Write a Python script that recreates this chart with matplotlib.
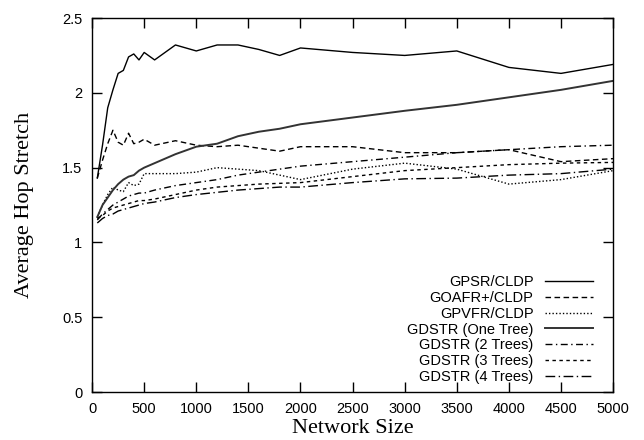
"""Average hop stretch vs. network size for geographic routing protocols."""

import matplotlib
matplotlib.use("Agg")
import matplotlib.pyplot as plt

# ---------------------------------------------------------------------------
# Data
# ---------------------------------------------------------------------------
network_size = [50, 100, 150, 200, 250, 300, 350, 400, 450, 500, 600, 800,
                1000, 1200, 1400, 1600, 1800, 2000, 2500, 3000, 3500, 4000,
                4500, 5000]

gpsr = [1.43, 1.65, 1.90, 2.02, 2.13, 2.15, 2.24, 2.26, 2.22, 2.27, 2.22, 2.32,
        2.28, 2.32, 2.32, 2.29, 2.25, 2.30, 2.27, 2.25, 2.28, 2.17, 2.13, 2.19]
goafr = [1.43, 1.55, 1.66, 1.75, 1.67, 1.65, 1.73, 1.66, 1.67, 1.69, 1.65, 1.68,
         1.65, 1.64, 1.65, 1.63, 1.61, 1.64, 1.64, 1.60, 1.60, 1.62, 1.54, 1.56]
gpvfr = [1.17, 1.25, 1.32, 1.37, 1.35, 1.34, 1.40, 1.38, 1.39, 1.46, 1.46, 1.46,
         1.47, 1.50, 1.49, 1.48, 1.45, 1.42, 1.49, 1.53, 1.49, 1.39, 1.42, 1.48]
gdstr_one = [1.17, 1.25, 1.30, 1.35, 1.39, 1.42, 1.44, 1.45, 1.48, 1.50, 1.53,
             1.59, 1.64, 1.66, 1.71, 1.74, 1.76, 1.79, 1.835, 1.88, 1.92, 1.97,
             2.02, 2.08]
gdstr_two = [1.15, 1.19, 1.22, 1.25, 1.27, 1.29, 1.31, 1.32, 1.33, 1.33, 1.35,
             1.38, 1.40, 1.42, 1.45, 1.47, 1.49, 1.51, 1.54, 1.57, 1.60, 1.62,
             1.64, 1.65]
gdstr_three = [1.16, 1.18, 1.21, 1.23, 1.24, 1.25, 1.26, 1.27, 1.28, 1.28, 1.29,
               1.32, 1.35, 1.37, 1.38, 1.39, 1.395, 1.40, 1.44, 1.48, 1.50, 1.52,
               1.53, 1.535]
gdstr_four = [1.13, 1.16, 1.18, 1.19, 1.21, 1.22, 1.23, 1.24, 1.25, 1.26, 1.27,
              1.30, 1.32, 1.335, 1.35, 1.36, 1.37, 1.37, 1.40, 1.425, 1.43, 1.45,
              1.46, 1.49]

labels = ["GPSR/CLDP", "GOAFR+/CLDP", "GPVFR/CLDP", "GDSTR (One Tree)",
          "GDSTR (2 Trees)", "GDSTR (3 Trees)", "GDSTR (4 Trees)"]

x_ticks = list(range(0, 5001, 500))
y_ticks = [0, 0.5, 1, 1.5, 2, 2.5]
y_tick_labels = ["0", "0.5", "1", "1.5", "2", "2.5"]

# ---------------------------------------------------------------------------
# Styles (gnuplot-like line types)
# ---------------------------------------------------------------------------
LINE_STYLES = [
    dict(linestyle="-", linewidth=1.0, color="black"),
    dict(linestyle=(0, (4, 2.5)), linewidth=1.0, color="black"),
    dict(linestyle=(0, (1, 1.5)), linewidth=1.0, color="black"),
    dict(linestyle="-", linewidth=1.4, color="#333333"),
    dict(linestyle=(0, (5, 2.5, 1, 2.5)), linewidth=1.0, color="black"),
    dict(linestyle=(0, (2.5, 2.5)), linewidth=1.0, color="black"),
    dict(linestyle=(0, (7, 2.5, 1, 2.5)), linewidth=1.0, color="black"),
]

SANS = ["Liberation Sans", "DejaVu Sans"]
SERIF = ["Liberation Serif", "DejaVu Serif"]


def main() -> None:
    figure = plt.figure(figsize=(6.44, 4.40), dpi=100)
    axis = figure.add_axes([0.143, 0.109, 0.809, 0.850])

    series = [gpsr, goafr, gpvfr, gdstr_one, gdstr_two, gdstr_three, gdstr_four]
    for values, label, style in zip(series, labels, LINE_STYLES):
        axis.plot(network_size, values, label=label, **style)

    axis.set_xlim(0, 5000)
    axis.set_ylim(0, 2.5)
    axis.set_xticks(x_ticks)
    axis.set_yticks(y_ticks)
    axis.set_yticklabels(y_tick_labels)

    axis.tick_params(direction="in", length=7, width=1, top=True, right=True,
                     labelsize=10.5, pad=7)
    for tick_label in axis.get_xticklabels() + axis.get_yticklabels():
        tick_label.set_family(SANS)
    for spine in axis.spines.values():
        spine.set_linewidth(1.0)

    axis.set_xlabel("Network Size", family=SERIF, fontsize=16, labelpad=2)
    axis.set_ylabel("Average Hop Stretch", family=SERIF, fontsize=16, labelpad=20)

    legend = axis.legend(loc="lower right", bbox_to_anchor=(0.962, 0.022),
                         frameon=False, markerfirst=False, borderpad=0,
                         borderaxespad=0, handlelength=3.3, labelspacing=0.12,
                         handletextpad=0.8, prop={"family": SANS, "size": 10.5})
    for text in legend.get_texts():
        text.set_horizontalalignment("right")
    legend._legend_box.align = "right"

    figure.savefig("out.png", dpi=100, facecolor="white")
    plt.close(figure)


if __name__ == "__main__":
    main()
